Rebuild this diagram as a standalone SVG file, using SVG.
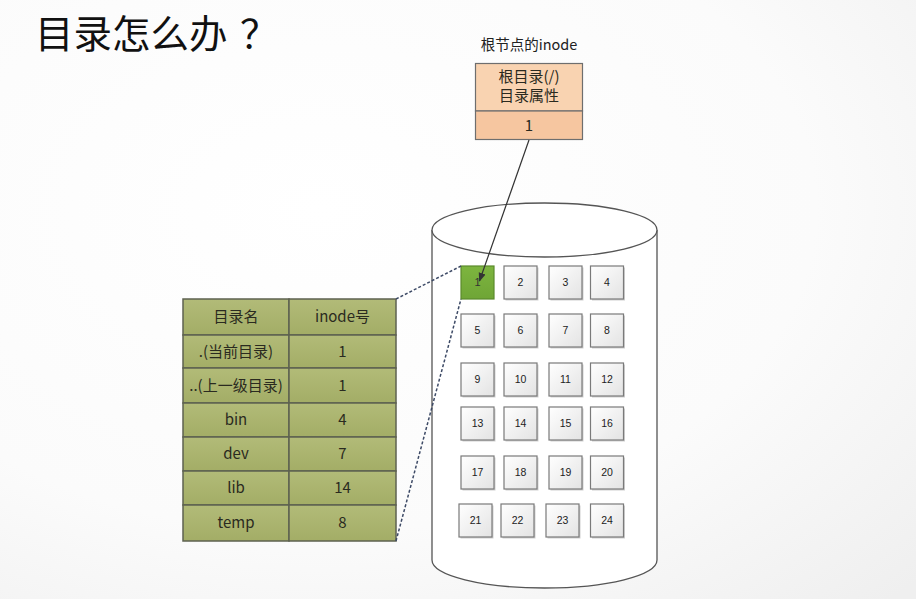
<svg xmlns="http://www.w3.org/2000/svg" width="916" height="599" viewBox="0 0 916 599">
<defs>
<radialGradient id="bg" cx="0.35" cy="0.35" r="0.9">
<stop offset="0" stop-color="#ffffff"/>
<stop offset="0.6" stop-color="#fbfbfb"/>
<stop offset="1" stop-color="#efefef"/>
</radialGradient>
<linearGradient id="cellg" x1="0" y1="0" x2="1" y2="1">
<stop offset="0" stop-color="#ffffff"/>
<stop offset="1" stop-color="#e3e3e3"/>
</linearGradient>
<linearGradient id="greeng" x1="0" y1="0" x2="0" y2="1">
<stop offset="0" stop-color="#7db53f"/>
<stop offset="1" stop-color="#6fa536"/>
</linearGradient>
<linearGradient id="tblg" x1="0" y1="0" x2="0" y2="1">
<stop offset="0" stop-color="#b2bb78"/>
<stop offset="1" stop-color="#a3ad66"/>
</linearGradient>
<marker id="arr" viewBox="0 0 10 10" refX="9" refY="5" markerWidth="9" markerHeight="9" orient="auto" markerUnits="userSpaceOnUse">
<path d="M0,1 L10,5 L0,9 z" fill="#333"/>
</marker>
<style>
.cjk{font-family:"Noto Sans CJK SC","Noto Sans",sans-serif;}
.cell rect.b{fill:url(#cellg);stroke:#7a7a7a;stroke-width:1.2;}
.cell rect.s{fill:#cfcfcf;}
.cell text{font-family:"Liberation Sans","Noto Sans",sans-serif;font-size:10.5px;fill:#222;text-anchor:middle;}
.tbl{fill:url(#tblg);stroke:#5e6250;stroke-width:1.5;}
.tt{font-family:"Noto Sans CJK SC","Noto Sans",sans-serif;font-size:15px;fill:#2a2a20;text-anchor:middle;}
.dot{fill:none;stroke:#3d4a66;stroke-width:1.5;stroke-dasharray:3 2;}
</style>
</defs>
<rect x="0" y="0" width="916" height="599" fill="url(#bg)"/>

<text x="35" y="48" class="cjk" font-size="38.5" fill="#111">目录怎么办<tspan x="240">？</tspan></text>

<g id="root-inode">
<text x="529" y="50" class="cjk" font-size="14.5" fill="#222" text-anchor="middle">根节点的inode</text>
<rect x="475.5" y="63.5" width="107" height="47.5" fill="#f9d3b1" stroke="#6e6e6e" stroke-width="1.2"/>
<rect x="475.5" y="111" width="107" height="28.5" fill="#f6c6a0" stroke="#6e6e6e" stroke-width="1.2"/>
<text x="529" y="82" class="tt">根目录(/)</text>
<text x="529" y="101" class="tt">目录属性</text>
<text x="529" y="131" class="tt">1</text>
</g>

<g id="disk">
<path d="M432,230 L432,560 A112.5,28 0 0 0 657,560 L657,230" fill="#ffffff" stroke="#555" stroke-width="1.3"/>
<ellipse cx="544.5" cy="230" rx="112.5" ry="27" fill="#ffffff" stroke="#555" stroke-width="1.3"/>
</g>

<g id="blocks">
<g id="b1"><rect x="461" y="266" width="33" height="33" fill="url(#greeng)" stroke="#5b8a2c" stroke-width="1.2"/><text x="477.5" y="286" font-family="Liberation Sans,sans-serif" font-size="11" fill="#333" text-anchor="middle">1</text></g>
<g id="b2" class="cell"><rect class="s" x="505.5" y="267.5" width="33" height="33"/><rect class="b" x="504" y="266" width="33" height="33"/><text x="520.5" y="286">2</text></g>
<g id="b3" class="cell"><rect class="s" x="550.5" y="267.5" width="33" height="33"/><rect class="b" x="549" y="266" width="33" height="33"/><text x="565.5" y="286">3</text></g>
<g id="b4" class="cell"><rect class="s" x="592" y="267.5" width="33" height="33"/><rect class="b" x="590.5" y="266" width="33" height="33"/><text x="607" y="286">4</text></g>

<g id="b5" class="cell"><rect class="s" x="462.5" y="315.5" width="33" height="33"/><rect class="b" x="461" y="314" width="33" height="33"/><text x="477.5" y="334">5</text></g>
<g id="b6" class="cell"><rect class="s" x="505.5" y="315.5" width="33" height="33"/><rect class="b" x="504" y="314" width="33" height="33"/><text x="520.5" y="334">6</text></g>
<g id="b7" class="cell"><rect class="s" x="550.5" y="315.5" width="33" height="33"/><rect class="b" x="549" y="314" width="33" height="33"/><text x="565.5" y="334">7</text></g>
<g id="b8" class="cell"><rect class="s" x="592" y="315.5" width="33" height="33"/><rect class="b" x="590.5" y="314" width="33" height="33"/><text x="607" y="334">8</text></g>

<g id="b9" class="cell"><rect class="s" x="462.5" y="364.5" width="33" height="33"/><rect class="b" x="461" y="363" width="33" height="33"/><text x="477.5" y="383">9</text></g>
<g id="b10" class="cell"><rect class="s" x="505.5" y="364.5" width="33" height="33"/><rect class="b" x="504" y="363" width="33" height="33"/><text x="520.5" y="383">10</text></g>
<g id="b11" class="cell"><rect class="s" x="550.5" y="364.5" width="33" height="33"/><rect class="b" x="549" y="363" width="33" height="33"/><text x="565.5" y="383">11</text></g>
<g id="b12" class="cell"><rect class="s" x="592" y="364.5" width="33" height="33"/><rect class="b" x="590.5" y="363" width="33" height="33"/><text x="607" y="383">12</text></g>

<g id="b13" class="cell"><rect class="s" x="462.5" y="408.5" width="33" height="33"/><rect class="b" x="461" y="407" width="33" height="33"/><text x="477.5" y="427">13</text></g>
<g id="b14" class="cell"><rect class="s" x="505.5" y="408.5" width="33" height="33"/><rect class="b" x="504" y="407" width="33" height="33"/><text x="520.5" y="427">14</text></g>
<g id="b15" class="cell"><rect class="s" x="550.5" y="408.5" width="33" height="33"/><rect class="b" x="549" y="407" width="33" height="33"/><text x="565.5" y="427">15</text></g>
<g id="b16" class="cell"><rect class="s" x="592" y="408.5" width="33" height="33"/><rect class="b" x="590.5" y="407" width="33" height="33"/><text x="607" y="427">16</text></g>

<g id="b17" class="cell"><rect class="s" x="462.5" y="457.5" width="33" height="33"/><rect class="b" x="461" y="456" width="33" height="33"/><text x="477.5" y="476">17</text></g>
<g id="b18" class="cell"><rect class="s" x="505.5" y="457.5" width="33" height="33"/><rect class="b" x="504" y="456" width="33" height="33"/><text x="520.5" y="476">18</text></g>
<g id="b19" class="cell"><rect class="s" x="550.5" y="457.5" width="33" height="33"/><rect class="b" x="549" y="456" width="33" height="33"/><text x="565.5" y="476">19</text></g>
<g id="b20" class="cell"><rect class="s" x="592" y="457.5" width="33" height="33"/><rect class="b" x="590.5" y="456" width="33" height="33"/><text x="607" y="476">20</text></g>

<g id="b21" class="cell"><rect class="s" x="460.5" y="505.5" width="33" height="33"/><rect class="b" x="459" y="504" width="33" height="33"/><text x="475.5" y="524">21</text></g>
<g id="b22" class="cell"><rect class="s" x="502.5" y="505.5" width="33" height="33"/><rect class="b" x="501" y="504" width="33" height="33"/><text x="517.5" y="524">22</text></g>
<g id="b23" class="cell"><rect class="s" x="547.5" y="505.5" width="33" height="33"/><rect class="b" x="546" y="504" width="33" height="33"/><text x="562.5" y="524">23</text></g>
<g id="b24" class="cell"><rect class="s" x="592" y="505.5" width="33" height="33"/><rect class="b" x="590.5" y="504" width="33" height="33"/><text x="607" y="524">24</text></g>
</g>

<g id="dir-table">
<rect class="tbl" x="183" y="299" width="106" height="36"/><rect class="tbl" x="289" y="299" width="107" height="36"/>
<rect class="tbl" x="183" y="335" width="106" height="33"/><rect class="tbl" x="289" y="335" width="107" height="33"/>
<rect class="tbl" x="183" y="368" width="106" height="35"/><rect class="tbl" x="289" y="368" width="107" height="35"/>
<rect class="tbl" x="183" y="403" width="106" height="34"/><rect class="tbl" x="289" y="403" width="107" height="34"/>
<rect class="tbl" x="183" y="437" width="106" height="34"/><rect class="tbl" x="289" y="437" width="107" height="34"/>
<rect class="tbl" x="183" y="471" width="106" height="34"/><rect class="tbl" x="289" y="471" width="107" height="34"/>
<rect class="tbl" x="183" y="505" width="106" height="36"/><rect class="tbl" x="289" y="505" width="107" height="36"/>
<text class="tt" x="236" y="322">目录名</text><text class="tt" x="342.5" y="322">inode号</text>
<text class="tt" x="236" y="356.5">.(当前目录)</text><text class="tt" x="342.5" y="356.5">1</text>
<text class="tt" x="236" y="390.5">..(上一级目录)</text><text class="tt" x="342.5" y="390.5">1</text>
<text class="tt" x="236" y="425">bin</text><text class="tt" x="342.5" y="425">4</text>
<text class="tt" x="236" y="459">dev</text><text class="tt" x="342.5" y="459">7</text>
<text class="tt" x="236" y="493">lib</text><text class="tt" x="342.5" y="493">14</text>
<text class="tt" x="236" y="528">temp</text><text class="tt" x="342.5" y="528">8</text>
</g>

<g id="connectors">
<line x1="529" y1="140" x2="479.5" y2="281" stroke="#333" stroke-width="1.2" marker-end="url(#arr)"/>
<line class="dot" x1="396" y1="299" x2="461" y2="266"/>
<line class="dot" x1="396" y1="541" x2="461" y2="299"/>
</g>
</svg>
